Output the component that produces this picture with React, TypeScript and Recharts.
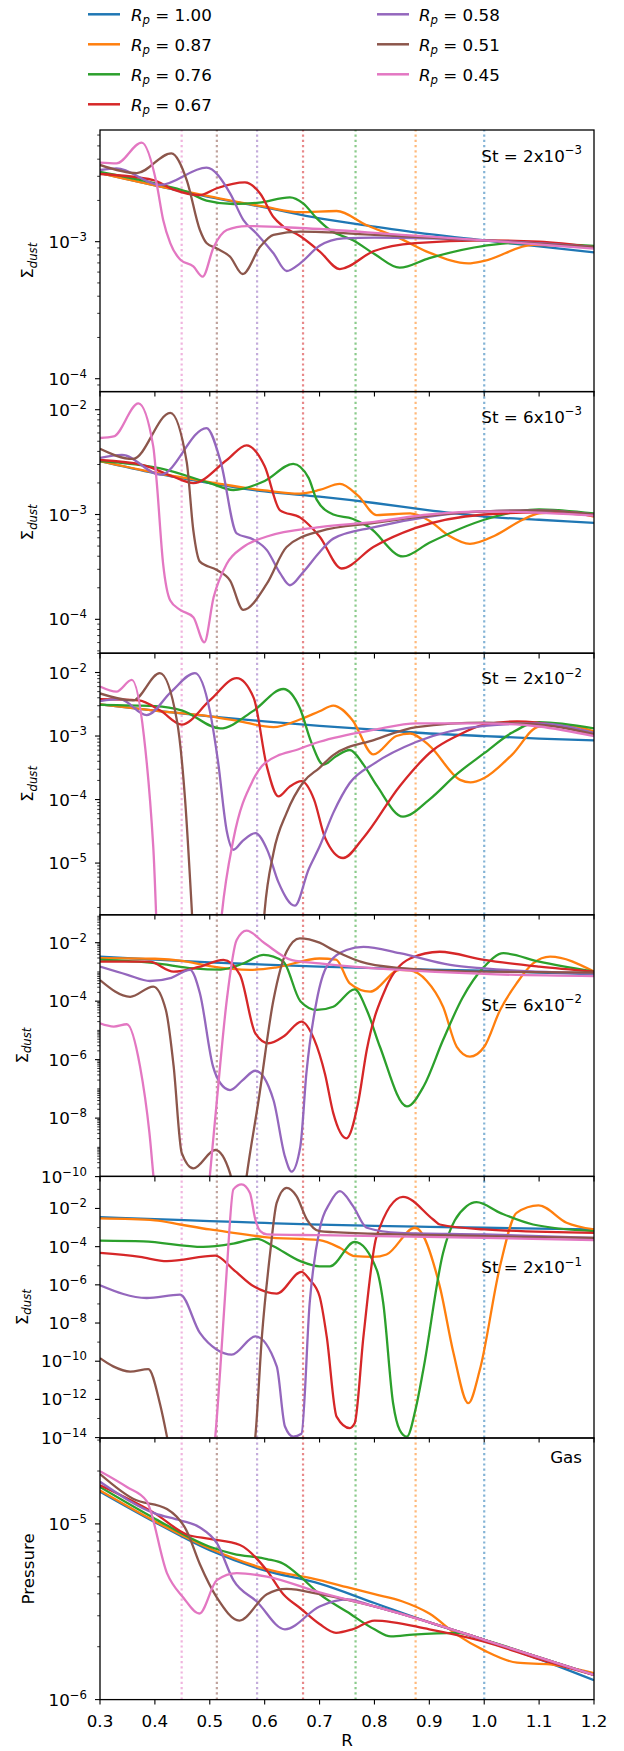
import React from 'react';
import { LineChart, Line, XAxis, YAxis, ReferenceLine } from 'recharts';

type Pt = [number, number]; // [R, log10(value)]

// ---------- categories / labels ----------
const seriesColors = ['#1f77b4', '#ff7f0e', '#2ca02c', '#d62728', '#9467bd', '#8c564b', '#e377c2'];
const legendLabels = ['1.00', '0.87', '0.76', '0.67', '0.58', '0.51', '0.45'];
const planetRadii = [1.0, 0.875, 0.7656, 0.6699, 0.5862, 0.5129, 0.4488];
const xTickValues = [0.3, 0.4, 0.5, 0.6, 0.7, 0.8, 0.9, 1.0, 1.1, 1.2];
const stokesMantissa = ['2', '6', '2', '6', '2'];
const stokesExponent = ['\u22123', '\u22123', '\u22122', '\u22122', '\u22121'];

// ---------- St = 2x10^-3 ----------
const st2e3_Rp100: Pt[] = [[0.3,-2.5],[0.4,-2.59],[0.5,-2.675],[0.6,-2.75],[0.7,-2.83],[0.8,-2.89],[0.9,-2.945],[1.0,-2.99],[1.1,-3.035],[1.2,-3.078]];
const st2e3_Rp087: Pt[] = [[0.3,-2.5],[0.4,-2.59],[0.5,-2.67],[0.6,-2.745],[0.664,-2.785],[0.731,-2.776],[0.786,-2.88],[0.846,-2.976],[0.9,-3.08],[0.971,-3.158],[1.0,-3.14],[1.089,-3.024],[1.2,-3.04]];
const st2e3_Rp076: Pt[] = [[0.3,-2.49],[0.4,-2.574],[0.458,-2.635],[0.494,-2.7],[0.543,-2.725],[0.59,-2.715],[0.646,-2.676],[0.67,-2.72],[0.695,-2.83],[0.719,-2.915],[0.761,-2.99],[0.8,-3.09],[0.846,-3.19],[0.9,-3.12],[1.0,-3.03],[1.05,-3.01],[1.2,-3.03]];
const st2e3_Rp067: Pt[] = [[0.3,-2.506],[0.397,-2.55],[0.434,-2.62],[0.482,-2.66],[0.513,-2.61],[0.564,-2.567],[0.592,-2.65],[0.616,-2.82],[0.634,-2.89],[0.665,-2.96],[0.7,-3.07],[0.737,-3.2],[0.798,-3.07],[0.874,-3.01],[1.0,-2.99],[1.1,-3.0],[1.2,-3.04]];
const st2e3_Rp058: Pt[] = [[0.3,-2.477],[0.33,-2.465],[0.41,-2.586],[0.494,-2.46],[0.537,-2.647],[0.561,-2.84],[0.585,-2.94],[0.616,-3.085],[0.64,-3.214],[0.664,-3.16],[0.7,-3.03],[0.743,-2.976],[0.8,-2.97],[1.0,-2.99],[1.2,-3.04]];
const st2e3_Rp051: Pt[] = [[0.3,-2.44],[0.367,-2.5],[0.43,-2.355],[0.458,-2.55],[0.482,-2.915],[0.494,-3.01],[0.513,-3.05],[0.537,-3.11],[0.56,-3.236],[0.592,-3.036],[0.616,-2.95],[0.665,-2.927],[0.8,-2.95],[1.0,-2.99],[1.2,-3.04]];
const st2e3_Rp045: Pt[] = [[0.3,-2.423],[0.33,-2.428],[0.376,-2.277],[0.403,-2.574],[0.415,-2.84],[0.428,-3.01],[0.446,-3.13],[0.47,-3.18],[0.487,-3.255],[0.507,-3.04],[0.531,-2.915],[0.567,-2.886],[0.664,-2.9],[0.85,-2.95],[1.0,-2.99],[1.2,-3.05]];

// ---------- St = 6x10^-3 ----------
const st6e3_Rp100: Pt[] = [[0.3,-2.49],[0.4,-2.605],[0.5,-2.7],[0.6,-2.78],[0.7,-2.83],[0.8,-2.89],[0.9,-2.96],[1.0,-3.02],[1.1,-3.05],[1.2,-3.08]];
const st6e3_Rp087: Pt[] = [[0.3,-2.49],[0.4,-2.6],[0.5,-2.69],[0.6,-2.77],[0.664,-2.8],[0.7,-2.766],[0.737,-2.708],[0.77,-2.82],[0.804,-3.005],[0.865,-2.99],[0.9,-3.06],[0.935,-3.2],[0.974,-3.28],[1.02,-3.2],[1.07,-3.05],[1.1,-2.99],[1.15,-2.975],[1.2,-3.02]];
const st6e3_Rp076: Pt[] = [[0.3,-2.49],[0.41,-2.56],[0.5,-2.7],[0.543,-2.766],[0.6,-2.68],[0.652,-2.517],[0.68,-2.65],[0.695,-2.86],[0.725,-3.0],[0.76,-3.04],[0.79,-3.12],[0.852,-3.4],[0.9,-3.27],[1.0,-3.05],[1.1,-2.95],[1.2,-2.99]];
const st6e3_Rp067: Pt[] = [[0.3,-2.48],[0.38,-2.53],[0.434,-2.64],[0.47,-2.7],[0.531,-2.48],[0.567,-2.34],[0.6,-2.54],[0.628,-2.96],[0.665,-3.03],[0.7,-3.21],[0.74,-3.515],[0.798,-3.31],[0.874,-3.13],[1.0,-3.0],[1.1,-2.98],[1.2,-3.01]];
const st6e3_Rp058: Pt[] = [[0.3,-2.46],[0.34,-2.43],[0.41,-2.62],[0.494,-2.175],[0.52,-2.5],[0.549,-3.18],[0.58,-3.24],[0.604,-3.34],[0.628,-3.56],[0.646,-3.675],[0.67,-3.55],[0.7,-3.36],[0.725,-3.23],[0.8,-3.12],[0.9,-3.02],[1.0,-2.97],[1.1,-2.96],[1.2,-3.0]];
const st6e3_Rp051: Pt[] = [[0.3,-2.373],[0.36,-2.47],[0.428,-2.03],[0.458,-2.5],[0.47,-3.15],[0.482,-3.45],[0.513,-3.53],[0.537,-3.63],[0.561,-3.91],[0.604,-3.66],[0.64,-3.31],[0.7,-3.16],[0.8,-3.08],[0.9,-3.01],[1.0,-2.97],[1.1,-2.96],[1.2,-3.0]];
const st6e3_Rp045: Pt[] = [[0.3,-2.27],[0.325,-2.255],[0.37,-1.94],[0.397,-2.35],[0.403,-2.67],[0.415,-3.47],[0.428,-3.82],[0.446,-3.91],[0.47,-3.98],[0.49,-4.22],[0.507,-3.79],[0.531,-3.47],[0.561,-3.31],[0.604,-3.21],[0.7,-3.12],[0.8,-3.07],[0.9,-3.0],[1.0,-2.97],[1.2,-3.01]];

// ---------- St = 2x10^-2 ----------
const st2e2_Rp100: Pt[] = [[0.3,-2.5],[0.4,-2.6],[0.5,-2.69],[0.6,-2.77],[0.7,-2.84],[0.8,-2.9],[0.9,-2.96],[1.0,-3.0],[1.1,-3.04],[1.2,-3.07]];
const st2e2_Rp087: Pt[] = [[0.3,-2.5],[0.4,-2.6],[0.5,-2.69],[0.55,-2.76],[0.616,-2.86],[0.664,-2.74],[0.7,-2.61],[0.725,-2.52],[0.76,-2.75],[0.798,-3.29],[0.84,-3.0],[0.865,-2.96],[0.9,-3.15],[0.956,-3.69],[0.975,-3.73],[1.0,-3.66],[1.05,-3.3],[1.1,-2.85],[1.15,-2.83],[1.2,-2.93]];
const st2e2_Rp076: Pt[] = [[0.3,-2.51],[0.4,-2.53],[0.45,-2.6],[0.519,-2.88],[0.58,-2.6],[0.634,-2.26],[0.664,-2.56],[0.685,-3.1],[0.707,-3.45],[0.73,-3.32],[0.755,-3.22],[0.78,-3.45],[0.805,-3.79],[0.852,-4.27],[0.9,-4.0],[0.95,-3.6],[1.0,-3.27],[1.05,-2.95],[1.1,-2.78],[1.2,-2.88]];
const st2e2_Rp067: Pt[] = [[0.3,-2.42],[0.37,-2.44],[0.41,-2.6],[0.449,-2.82],[0.5,-2.44],[0.549,-2.09],[0.58,-2.4],[0.604,-3.48],[0.625,-3.95],[0.645,-3.8],[0.667,-3.71],[0.69,-4.0],[0.71,-4.6],[0.743,-4.92],[0.78,-4.6],[0.846,-3.79],[0.907,-3.22],[0.95,-3.0],[1.0,-2.82],[1.06,-2.77],[1.2,-2.98]];
const st2e2_Rp058: Pt[] = [[0.3,-2.45],[0.336,-2.42],[0.385,-2.67],[0.43,-2.3],[0.473,-2.01],[0.5,-2.6],[0.515,-3.4],[0.531,-4.5],[0.543,-4.79],[0.56,-4.65],[0.583,-4.53],[0.605,-4.8],[0.625,-5.3],[0.655,-5.67],[0.68,-5.1],[0.7,-4.74],[0.725,-4.21],[0.755,-3.74],[0.8,-3.43],[0.877,-3.09],[1.0,-2.84],[1.1,-2.8],[1.2,-2.95]];
const st2e2_Rp051: Pt[] = [[0.3,-2.33],[0.36,-2.44],[0.409,-2.01],[0.44,-2.75],[0.455,-4.0],[0.467,-5.7],[0.475,-7],[0.59,-7],[0.6,-5.75],[0.616,-4.84],[0.64,-4.21],[0.671,-3.72],[0.7,-3.5],[0.725,-3.3],[0.8,-3.06],[0.877,-2.86],[1.0,-2.79],[1.1,-2.82],[1.2,-2.97]];
const st2e2_Rp045: Pt[] = [[0.3,-2.22],[0.33,-2.3],[0.358,-2.115],[0.38,-3.0],[0.397,-4.74],[0.41,-7],[0.51,-7],[0.522,-5.8],[0.543,-4.63],[0.579,-3.69],[0.6,-3.43],[0.664,-3.2],[0.7,-3.09],[0.8,-2.9],[0.877,-2.8],[1.0,-2.8],[1.1,-2.85],[1.2,-3.0]];

// ---------- St = 6x10^-2 ----------
const st6e2_Rp100: Pt[] = [[0.3,-2.48],[0.4,-2.58],[0.5,-2.67],[0.6,-2.75],[0.7,-2.82],[0.8,-2.87],[0.9,-2.92],[1.0,-2.96],[1.1,-3.02],[1.2,-3.08]];
const st6e2_Rp087: Pt[] = [[0.3,-2.53],[0.4,-2.55],[0.45,-2.62],[0.5,-2.8],[0.573,-2.93],[0.62,-2.85],[0.7,-2.54],[0.73,-2.58],[0.755,-3.39],[0.792,-3.675],[0.846,-2.93],[0.865,-2.95],[0.895,-3.3],[0.925,-4.19],[0.95,-5.56],[0.974,-5.9],[1.0,-5.56],[1.029,-4.3],[1.059,-3.39],[1.089,-2.71],[1.12,-2.48],[1.2,-2.99]];
const st6e2_Rp076: Pt[] = [[0.3,-2.58],[0.4,-2.7],[0.47,-2.88],[0.52,-2.92],[0.56,-2.72],[0.598,-2.42],[0.634,-2.65],[0.665,-4.0],[0.695,-4.3],[0.725,-4.19],[0.764,-3.6],[0.786,-4.3],[0.81,-5.56],[0.859,-7.6],[0.89,-6.9],[0.925,-5.33],[0.96,-3.9],[1.0,-2.82],[1.035,-2.36],[1.1,-2.65],[1.2,-2.99]];
const st6e2_Rp067: Pt[] = [[0.3,-2.65],[0.39,-2.65],[0.434,-2.99],[0.48,-2.83],[0.525,-2.59],[0.555,-3.1],[0.583,-5.1],[0.607,-5.44],[0.635,-5.2],[0.667,-4.7],[0.69,-5.3],[0.71,-6.5],[0.725,-7.83],[0.749,-8.69],[0.77,-7.5],[0.786,-5.67],[0.822,-3.5],[0.865,-2.54],[0.919,-2.31],[1.0,-2.59],[1.1,-2.82],[1.2,-2.99]];
const st6e2_Rp058: Pt[] = [[0.3,-2.82],[0.35,-3.1],[0.391,-3.31],[0.43,-3.2],[0.464,-2.93],[0.482,-3.73],[0.506,-6.24],[0.519,-6.8],[0.537,-7.04],[0.56,-6.7],[0.583,-6.38],[0.616,-7.38],[0.637,-9.32],[0.649,-9.83],[0.665,-8.97],[0.676,-6.47],[0.695,-3.96],[0.713,-2.82],[0.749,-2.25],[0.78,-2.14],[0.846,-2.36],[0.938,-2.76],[1.0,-2.88],[1.2,-3.05]];
const st6e2_Rp051: Pt[] = [[0.3,-3.28],[0.355,-3.85],[0.397,-3.5],[0.42,-4.3],[0.434,-6.2],[0.449,-9.2],[0.47,-9.72],[0.51,-9.09],[0.537,-9.89],[0.545,-10.5],[0.56,-11],[0.567,-10],[0.589,-7.38],[0.616,-3.96],[0.64,-2.3],[0.664,-1.85],[0.7,-2.0],[0.725,-2.25],[0.786,-2.71],[0.877,-2.91],[1.0,-2.99],[1.2,-3.02]];
const st6e2_Rp045: Pt[] = [[0.3,-4.76],[0.325,-4.87],[0.349,-4.79],[0.373,-6.24],[0.39,-8.5],[0.4,-10.5],[0.41,-12],[0.49,-12],[0.5,-10],[0.513,-7.38],[0.531,-3.96],[0.549,-1.91],[0.567,-1.59],[0.6,-2.02],[0.65,-2.6],[0.7,-2.71],[1.0,-3.07],[1.2,-3.14]];

// ---------- St = 2x10^-1 ----------
const st2e1_Rp100: Pt[] = [[0.3,-2.455],[0.4,-2.56],[0.5,-2.66],[0.6,-2.76],[0.7,-2.85],[0.8,-2.91],[0.9,-2.96],[1.0,-3.01],[1.1,-3.06],[1.2,-3.1]];
const st2e1_Rp087: Pt[] = [[0.3,-2.52],[0.4,-2.62],[0.446,-2.84],[0.5,-3.1],[0.55,-3.3],[0.6,-3.5],[0.7,-3.66],[0.737,-4.06],[0.764,-4.5],[0.798,-4.54],[0.822,-4.41],[0.874,-3.01],[0.919,-6.08],[0.944,-9.57],[0.971,-12.2],[0.992,-10.45],[1.029,-5.0],[1.059,-2.23],[1.099,-1.84],[1.15,-2.75],[1.2,-3.1]];
const st2e1_Rp076: Pt[] = [[0.3,-3.68],[0.379,-3.72],[0.488,-4.01],[0.543,-3.84],[0.586,-3.59],[0.616,-3.98],[0.665,-4.76],[0.7,-5.03],[0.719,-5.03],[0.764,-3.75],[0.804,-5.2],[0.816,-6.95],[0.834,-12.2],[0.846,-13.6],[0.859,-13.95],[0.875,-12.5],[0.889,-10.45],[0.925,-4.33],[0.968,-1.88],[0.986,-1.67],[1.029,-2.23],[1.089,-2.84],[1.2,-3.19]];
const st2e1_Rp067: Pt[] = [[0.3,-4.33],[0.373,-4.54],[0.422,-4.76],[0.51,-4.47],[0.543,-5.2],[0.58,-6.08],[0.622,-6.46],[0.667,-5.32],[0.682,-5.73],[0.7,-6.6],[0.713,-8.7],[0.731,-12.9],[0.755,-13.5],[0.764,-13.25],[0.78,-8.7],[0.804,-3.45],[0.852,-1.39],[0.907,-2.58],[0.919,-2.84],[1.0,-3.1],[1.2,-3.28]];
const st2e1_Rp058: Pt[] = [[0.3,-6.02],[0.385,-6.69],[0.446,-6.51],[0.482,-8.52],[0.513,-9.4],[0.54,-9.66],[0.583,-8.7],[0.622,-10.27],[0.637,-13.42],[0.652,-13.95],[0.667,-13.8],[0.682,-6.95],[0.7,-3.1],[0.719,-1.7],[0.737,-1.09],[0.761,-1.88],[0.786,-3.01],[0.846,-3.28],[1.0,-3.36],[1.2,-3.54]];
const st2e1_Rp051: Pt[] = [[0.3,-9.84],[0.324,-10.27],[0.355,-10.54],[0.388,-10.41],[0.409,-12.2],[0.422,-13.95],[0.435,-16],[0.57,-16],[0.583,-13.95],[0.595,-8.7],[0.61,-4.33],[0.622,-1.7],[0.64,-0.92],[0.658,-1.35],[0.677,-2.58],[0.7,-3.19],[0.725,-3.24],[1.0,-3.45],[1.2,-3.54]];
const st2e1_Rp045: Pt[] = [[0.3,-16],[0.5,-16],[0.51,-13.95],[0.519,-10.45],[0.531,-5.2],[0.543,-1.0],[0.558,-0.74],[0.573,-1.18],[0.583,-2.58],[0.592,-3.19],[0.604,-3.36],[0.7,-3.4],[1.0,-3.54],[1.2,-3.66]];

// ---------- Gas pressure ----------
const gas_Rp100: Pt[] = [[0.3,-4.816],[0.4,-4.99],[0.5,-5.15],[0.6,-5.265],[0.7,-5.34],[0.8,-5.45],[0.9,-5.56],[1.0,-5.66],[1.1,-5.77],[1.2,-5.89]];
const gas_Rp087: Pt[] = [[0.3,-4.81],[0.4,-4.985],[0.5,-5.14],[0.6,-5.255],[0.7,-5.32],[0.75,-5.36],[0.8,-5.4],[0.85,-5.44],[0.9,-5.51],[0.95,-5.63],[1.0,-5.72],[1.06,-5.79],[1.12,-5.8],[1.2,-5.85]];
const gas_Rp076: Pt[] = [[0.3,-4.79],[0.4,-4.97],[0.5,-5.13],[0.543,-5.17],[0.604,-5.2],[0.634,-5.227],[0.665,-5.3],[0.7,-5.4],[0.75,-5.5],[0.8,-5.6],[0.83,-5.64],[0.87,-5.63],[0.95,-5.62],[1.0,-5.66],[1.1,-5.76],[1.2,-5.86]];
const gas_Rp067: Pt[] = [[0.3,-4.78],[0.4,-4.94],[0.458,-5.06],[0.5,-5.085],[0.555,-5.12],[0.604,-5.265],[0.634,-5.4],[0.665,-5.48],[0.7,-5.57],[0.73,-5.62],[0.76,-5.6],[0.8,-5.55],[0.9,-5.6],[1.0,-5.67],[1.1,-5.77],[1.2,-5.86]];
const gas_Rp058: Pt[] = [[0.3,-4.76],[0.4,-4.94],[0.446,-4.98],[0.482,-5.02],[0.513,-5.11],[0.543,-5.32],[0.585,-5.44],[0.637,-5.6],[0.7,-5.47],[0.75,-5.43],[0.8,-5.47],[0.9,-5.56],[1.0,-5.66],[1.1,-5.76],[1.2,-5.86]];
const gas_Rp051: Pt[] = [[0.3,-4.716],[0.361,-4.858],[0.422,-4.915],[0.458,-5.04],[0.482,-5.23],[0.513,-5.42],[0.554,-5.55],[0.604,-5.4],[0.64,-5.37],[0.7,-5.4],[0.8,-5.47],[0.9,-5.56],[1.0,-5.66],[1.1,-5.76],[1.2,-5.86]];
const gas_Rp045: Pt[] = [[0.3,-4.7],[0.349,-4.79],[0.385,-4.87],[0.422,-5.28],[0.452,-5.42],[0.481,-5.51],[0.513,-5.32],[0.549,-5.28],[0.604,-5.3],[0.7,-5.39],[0.8,-5.47],[0.9,-5.56],[1.0,-5.66],[1.1,-5.76],[1.2,-5.86]];

const panelSeries: Pt[][][] = [
  [st2e3_Rp100, st2e3_Rp087, st2e3_Rp076, st2e3_Rp067, st2e3_Rp058, st2e3_Rp051, st2e3_Rp045],
  [st6e3_Rp100, st6e3_Rp087, st6e3_Rp076, st6e3_Rp067, st6e3_Rp058, st6e3_Rp051, st6e3_Rp045],
  [st2e2_Rp100, st2e2_Rp087, st2e2_Rp076, st2e2_Rp067, st2e2_Rp058, st2e2_Rp051, st2e2_Rp045],
  [st6e2_Rp100, st6e2_Rp087, st6e2_Rp076, st6e2_Rp067, st6e2_Rp058, st6e2_Rp051, st6e2_Rp045],
  [st2e1_Rp100, st2e1_Rp087, st2e1_Rp076, st2e1_Rp067, st2e1_Rp058, st2e1_Rp051, st2e1_Rp045],
  [gas_Rp100, gas_Rp087, gas_Rp076, gas_Rp067, gas_Rp058, gas_Rp051, gas_Rp045],
];

// axis ranges (log10)
const panelLogDomains: [number, number][] = [
  [-4.094, -2.185], [-4.327, -1.831], [-5.811, -1.693], [-10, -1.053], [-14, -0.3], [-6, -4.511],
];
const panelLabelEvery = [1, 1, 1, 2, 2, 1];
const panelSubTicks = [true, true, true, true, false, true];

// ---------- layout ----------
const FONT = "'DejaVu Sans', sans-serif";
const W = 624;
const H = 1751;
const PANEL_TOP0 = 130;
const PANEL_H = 261.6;
const PLOT_LEFT = 100;
const PLOT_RIGHT = 594;
const PAD_TOP = 10;
const AXIS_H = 50;
const FS = 16.7;

const toData = (pts: Pt[]) => pts.map(([x, e]) => ({ x, y: Math.pow(10, e) }));

function logTicks(lo: number, hi: number, subs: boolean): number[] {
  const out: number[] = [];
  for (let e = Math.floor(lo); e <= Math.ceil(hi); e++) {
    const ms = subs ? [1, 2, 3, 4, 5, 6, 7, 8, 9] : [1];
    for (const m of ms) {
      const v = m * Math.pow(10, e);
      const lv = Math.log10(v);
      if (lv >= lo - 1e-9 && lv <= hi + 1e-9) out.push(v);
    }
  }
  return out;
}

const makeYTick = (labelEvery: number) => (props: any) => {
  const { y, payload } = props;
  const v: number = payload.value;
  const lg = Math.log10(v);
  const e = Math.round(lg);
  const isDec = Math.abs(lg - e) < 1e-6;
  const labelled = isDec && e % labelEvery === 0;
  const len = labelled ? 5 : 2.8;
  return (
    <g>
      <line x1={PLOT_LEFT - len} x2={PLOT_LEFT} y1={y} y2={y} stroke="#000" strokeWidth={labelled ? 1.1 : 0.8} />
      {labelled && (
        <text x={87} y={y + 6} textAnchor="end" fontSize={FS} fontFamily={FONT} fill="#000">
          10
          <tspan dy={-7} fontSize={11.7}>{`\u2212${-e}`}</tspan>
        </text>
      )}
    </g>
  );
};

const makeXTick = (bottomY: number, showLabel: boolean) => (props: any) => {
  const { x, payload } = props;
  return (
    <g>
      <line x1={x} x2={x} y1={bottomY} y2={bottomY + 5} stroke="#000" strokeWidth={1.1} />
      {showLabel && (
        <text x={x} y={bottomY + 27} textAnchor="middle" fontSize={FS} fontFamily={FONT} fill="#000">
          {payload.value.toFixed(1)}
        </text>
      )}
    </g>
  );
};

function Panel({ idx }: { idx: number }) {
  const top = PANEL_TOP0 + idx * PANEL_H;
  const [lo, hi] = panelLogDomains[idx];
  const ch = PAD_TOP + PANEL_H + AXIS_H;
  const yTicks = logTicks(lo, hi, panelSubTicks[idx]);
  return (
    <div style={{ position: 'absolute', left: 0, top: top - PAD_TOP, width: W, height: ch }}>
      <LineChart width={W} height={ch} margin={{ top: PAD_TOP, right: W - PLOT_RIGHT, bottom: 0, left: 0 }}>
        <XAxis
          type="number"
          dataKey="x"
          domain={[0.3, 1.2]}
          ticks={xTickValues}
          interval={0}
          allowDataOverflow
          axisLine={false}
          tickLine={false}
          height={AXIS_H}
          tick={makeXTick(PAD_TOP + PANEL_H, idx === 5)}
        />
        <YAxis
          type="number"
          scale="log"
          domain={[Math.pow(10, lo), Math.pow(10, hi)]}
          allowDataOverflow
          ticks={yTicks}
          interval={0}
          axisLine={false}
          tickLine={false}
          width={PLOT_LEFT}
          tick={makeYTick(panelLabelEvery[idx])}
        />
        {planetRadii.map((r, i) => (
          <ReferenceLine key={'rl' + i} x={r} stroke={seriesColors[i]} strokeOpacity={0.55} strokeWidth={2.2} strokeDasharray="2.2 3" />
        ))}
        {panelSeries[idx].map((s, i) => (
          <Line
            key={'s' + i}
            data={toData(s)}
            dataKey="y"
            name={legendLabels[i]}
            type="monotone"
            stroke={seriesColors[i]}
            strokeWidth={2.3}
            dot={false}
            activeDot={false}
            isAnimationActive={false}
          />
        ))}
      </LineChart>
    </div>
  );
}

function Overlay() {
  return (
    <svg width={W} height={H} style={{ position: 'absolute', left: 0, top: 0, pointerEvents: 'none' }}>
      {/* legend */}
      {legendLabels.map((lab, i) => {
        const col = i < 4 ? 0 : 1;
        const row = i < 4 ? i : i - 4;
        const cy = 14.3 + 30 * row;
        const lx = col === 0 ? 88 : 377;
        const tx = col === 0 ? 131 : 419;
        return (
          <g key={'lg' + i}>
            <line x1={lx} x2={lx + 32} y1={cy} y2={cy} stroke={seriesColors[i]} strokeWidth={2.5} />
            <text x={tx} y={cy + 6.2} fontSize={FS} fontFamily={FONT} fill="#000">
              <tspan fontStyle="italic">R</tspan>
              <tspan fontStyle="italic" fontSize={11.7} dy={3.5}>p</tspan>
              <tspan dy={-3.5}>{` = ${lab}`}</tspan>
            </text>
          </g>
        );
      })}
      {/* frames */}
      {panelSeries.map((_, i) => (
        <rect key={'fr' + i} x={PLOT_LEFT} y={PANEL_TOP0 + i * PANEL_H} width={PLOT_RIGHT - PLOT_LEFT} height={PANEL_H} fill="none" stroke="#000" strokeWidth={1.3} />
      ))}
      {/* annotations */}
      {stokesMantissa.map((m, i) => {
        const baseOff = [31.7, 31, 30.7, 96, 96.7][i];
        return (
          <text key={'st' + i} x={582} y={PANEL_TOP0 + i * PANEL_H + baseOff} textAnchor="end" fontSize={FS} fontFamily={FONT} fill="#000">
            {`St = ${m}x10`}
            <tspan dy={-7.4} fontSize={11.7}>{stokesExponent[i]}</tspan>
          </text>
        );
      })}
      <text x={582} y={PANEL_TOP0 + 5 * PANEL_H + 25} textAnchor="end" fontSize={FS} fontFamily={FONT} fill="#000">Gas</text>
      {/* y labels */}
      {[0, 1, 2, 3, 4].map((i) => {
        const cy = PANEL_TOP0 + (i + 0.5) * PANEL_H;
        const tx = i >= 3 ? 27.5 : 33;
        return (
          <text key={'yl' + i} transform={`translate(${tx},${cy}) rotate(-90)`} textAnchor="middle" fontSize={FS} fontFamily={FONT} fill="#000">
            {'\u03a3'}
            <tspan fontStyle="italic" fontSize={11.7} dy={3.5}>dust</tspan>
          </text>
        );
      })}
      <text transform={`translate(34,${PANEL_TOP0 + 5.5 * PANEL_H}) rotate(-90)`} textAnchor="middle" fontSize={FS} fontFamily={FONT} fill="#000">Pressure</text>
      <text x={(PLOT_LEFT + PLOT_RIGHT) / 2} y={1746} textAnchor="middle" fontSize={FS} fontFamily={FONT} fill="#000">R</text>
    </svg>
  );
}

export default function App() {
  return (
    <div style={{ position: 'absolute', left: 0, top: 0, width: W, height: H, background: '#fff', overflow: 'hidden' }}>
      {panelSeries.map((_, i) => (
        <Panel key={i} idx={i} />
      ))}
      <Overlay />
    </div>
  );
}
